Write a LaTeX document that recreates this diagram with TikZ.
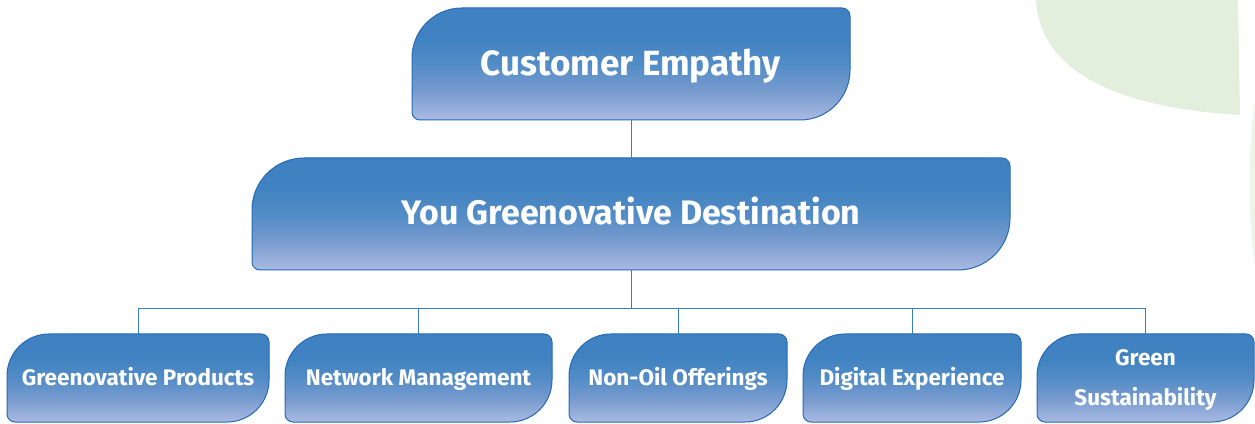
\documentclass[tikz,border=0pt]{standalone}
\usepackage{fontspec}
\setmainfont{Fira Sans}
\definecolor{boxtop}{RGB}{64,130,193}
\definecolor{boxmid}{RGB}{82,140,198}
\definecolor{boxlow}{RGB}{120,155,207}
\definecolor{boxbot}{RGB}{170,186,226}
\definecolor{boxedge}{RGB}{36,106,180}
\definecolor{linkblue}{RGB}{58,125,192}
\definecolor{leafgreen}{RGB}{227,239,221}
\definecolor{leafpale}{RGB}{238,245,232}
\pgfdeclareverticalshading{boxshade}{100bp}{color(0bp)=(boxbot); color(25bp)=(boxbot); color(38bp)=(boxlow); color(50bp)=(boxmid); color(62bp)=(boxtop); color(100bp)=(boxtop)}

% invisible rule that fixes the height and depth of a label line
\newcommand\lineprop{\rule[-0.26em]{0pt}{1.16em}}

% box with a large radius at top-left and bottom-right, small ones elsewhere
% #1 name, #2 left, #3 bottom, #4 right, #5 top, #6 large radius, #7 font size, #8 text
\newcommand\leafbox[8]{%
  \path[shade, shading=boxshade, draw=boxedge, line width=1pt]
    ({#2},{#3+8}) -- ({#2},{#5-#6}) arc[start angle=180,end angle=90,radius=#6]
    -- ({#4-8},{#5}) arc[start angle=90,end angle=0,radius=8]
    -- ({#4},{#3+#6}) arc[start angle=0,end angle=-90,radius=#6]
    -- ({#2+8},{#3}) arc[start angle=270,end angle=180,radius=8] -- cycle;
  \node[boxtext, font=\bfseries\fontsize{#7pt}{#7pt}\selectfont,
        minimum width={#4-#2}, minimum height={#5-#3}]
    (#1) at ({(#2+#4)/2},{(#3+#5)/2}) {\lineprop#8\lineprop};
}

\begin{document}
\begin{tikzpicture}[x=1pt,y=1pt,
    boxtext/.style={text=white, align=center, inner sep=0pt},
    link/.style={draw=linkblue, line width=1pt}]
  \useasboundingbox (0,0) rectangle (1255,423);

  % leaves in the top-right corner
  \fill[leafgreen] (1036,423) .. controls (1040,350) and (1120,315) .. (1240,308)
    -- (1238,423) -- cycle;
  \fill[leafpale] (1255,323) .. controls (1248,280) and (1248,200) .. (1255,156) -- cycle;

  \leafbox{ce}{412}{303}{850}{415}{50}{35}{Customer Empathy}
  \leafbox{dest}{252}{153}{1010}{265}{52}{34}{You Greenovative Destination}

  \leafbox{p1}{7}{1}{269}{89}{42}{22.5}{Greenovative Products}
  \leafbox{p2}{285}{1}{552}{89}{42}{22.5}{Network Management}
  \leafbox{p3}{569}{1}{787}{89}{42}{22.5}{Non-Oil Offerings}
  \leafbox{p4}{803}{1}{1021}{89}{42}{22.5}{Digital Experience}
  \leafbox{p5}{1037}{1}{1254}{89}{42}{22.5}{Green\lineprop\\[12.5pt]\lineprop Sustainability}

  % connectors
  \coordinate (bus) at (631,114);
  \draw[link] (ce.south) -- (dest.north);
  \draw[link] (dest.south) -- (bus);
  \draw[link] (p1.north |- bus) -- (p5.north |- bus);
  \foreach \b in {p1,p2,p3,p4,p5}
    \draw[link] (\b.north) -- (\b.north |- bus);
\end{tikzpicture}
\end{document}
